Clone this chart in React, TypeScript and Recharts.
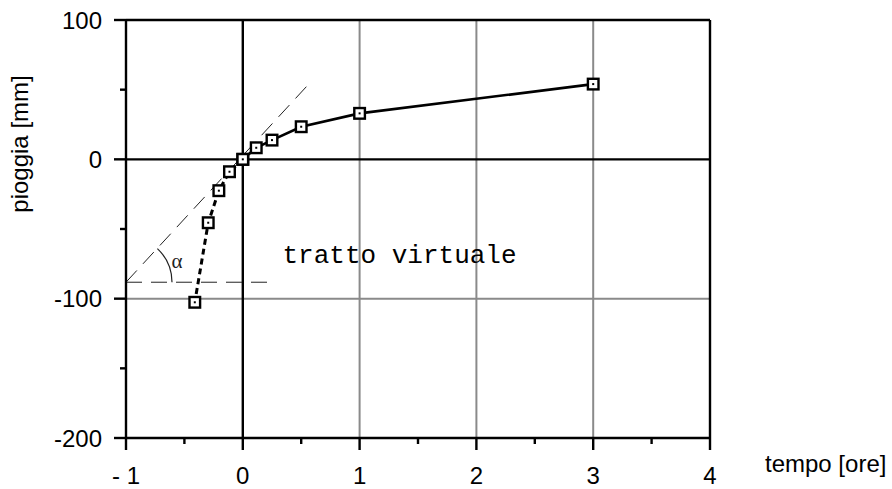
import {
  LineChart,
  Line,
  XAxis,
  YAxis,
  ReferenceLine,
  ReferenceDot,
} from "recharts";

// Rainfall curve: measured branch (t >= 0) and the virtual branch (t < 0)
const realTimes = [0, 0.115, 0.25, 0.5, 1, 3];
const realRain = [0, 8.3, 13.8, 23.4, 33, 54];

const virtualTimes = [0, -0.114, -0.205, -0.296, -0.411];
const virtualRain = [0, -8.9, -22.5, -45.5, -102.6];

// Construction line used to read the angle alpha
const tangentStart = { x: -1, y: -88.2 };
const tangentEnd = { x: 0.557, y: 53.3 };
const baselineEnd = { x: 0.257, y: -88.2 };

const xTicks = [-1, -0.5, 0, 0.5, 1, 1.5, 2, 2.5, 3, 3.5, 4];
const xTickLabels: Record<number, string> = {
  [-1]: "- 1",
  0: "0",
  1: "1",
  2: "2",
  3: "3",
  4: "4",
};
const yTicks = [-200, -150, -100, -50, 0, 50, 100];
const yTickLabels: Record<number, string> = {
  [-200]: "-200",
  [-100]: "-100",
  0: "0",
  100: "100",
};

const virtualLabel = { x: 0.34, y: -74.4, text: "tratto virtuale" };

const realData = realTimes.map((t, i) => ({ t, p: realRain[i] }));
const virtualData = virtualTimes.map((t, i) => ({ t, p: virtualRain[i] }));

const SANS = "'Liberation Sans', Arial, Helvetica, sans-serif";
const INK = "#000";
const GRID = "#8a8a8a";
const AXIS_W = 2.4;

function SquareMarker(props: any) {
  const { cx, cy, index } = props;
  if (cx == null || cy == null) return null;
  return (
    <g key={`m-${index}`}>
      <rect x={cx - 5.3} y={cy - 5.3} width={10.6} height={10.6} fill="#fff" stroke={INK} strokeWidth={2.4} />
      <rect x={cx - 1} y={cy - 1} width={2} height={2} fill={INK} />
    </g>
  );
}

function XTick(props: any) {
  const { x, y, payload } = props;
  const v = payload.value as number;
  const label = xTickLabels[v];
  const major = label !== undefined;
  return (
    <g>
      <line x1={x} x2={x} y1={y} y2={y + (major ? 12 : 6)} stroke={INK} strokeWidth={AXIS_W} />
      {major && (
        <text x={x} y={y + 46} textAnchor="middle" fontFamily={SANS} fontSize={24} fill={INK}>
          {label}
        </text>
      )}
    </g>
  );
}

function YTick(props: any) {
  const { x, y, payload } = props;
  const v = payload.value as number;
  const label = yTickLabels[v];
  const major = label !== undefined;
  return (
    <g>
      <line x1={x - (major ? 12 : 6)} x2={x} y1={y} y2={y} stroke={INK} strokeWidth={AXIS_W} />
      {major && (
        <text x={x - 24} y={y + 8.6} textAnchor="end" fontFamily={SANS} fontSize={24} fill={INK}>
          {label}
        </text>
      )}
    </g>
  );
}

// Arc and alpha symbol at the foot of the tangent line
function AlphaMark(props: any) {
  const { cx, cy } = props;
  const r = 46;
  const a = (47 * Math.PI) / 180;
  const ex = cx + r * Math.cos(a);
  const ey = cy - r * Math.sin(a);
  return (
    <g>
      <path d={`M ${cx + r} ${cy} A ${r} ${r} 0 0 0 ${ex} ${ey}`} fill="none" stroke="#222" strokeWidth={1.2} />
      <text x={cx + 51} y={cy - 14} textAnchor="middle" fontFamily="'Liberation Serif', 'Times New Roman', serif" fontSize={21} fill="#222">
        α
      </text>
    </g>
  );
}

function VirtualText(props: any) {
  const { cx, cy } = props;
  return (
    <text x={cx} y={cy} fontFamily="'Liberation Mono', 'Courier New', monospace" fontSize={26} fill={INK}>
      {virtualLabel.text}
    </text>
  );
}

export default function App() {
  return (
    <div style={{ position: "absolute", left: 0, top: 0, width: 892, height: 489, background: "#fff" }}>
      <LineChart width={892} height={489} margin={{ top: 20, right: 182, left: 66, bottom: 11 }}>
        <XAxis
          type="number"
          dataKey="t"
          domain={[-1, 4]}
          ticks={xTicks}
          allowDataOverflow
          height={40}
          tickSize={0}
          tickMargin={0}
          tickLine={false}
          axisLine={{ stroke: INK, strokeWidth: AXIS_W }}
          tick={(p: any) => <XTick {...p} />}
          label={({ viewBox }: any) => (
            <text
              x={viewBox.x + viewBox.width + 55}
              y={viewBox.y + 34}
              fontFamily={SANS}
              fontSize={24}
              fill={INK}
            >
              tempo [ore]
            </text>
          )}
        />
        <YAxis
          type="number"
          dataKey="p"
          domain={[-200, 100]}
          ticks={yTicks}
          allowDataOverflow
          width={60}
          tickSize={0}
          tickMargin={0}
          tickLine={false}
          axisLine={{ stroke: INK, strokeWidth: AXIS_W }}
          tick={(p: any) => <YTick {...p} />}
          label={({ viewBox }: any) => (
            <text
              x={28}
              y={viewBox.y + 124}
              transform={`rotate(-90, 28, ${viewBox.y + 124})`}
              textAnchor="middle"
              fontFamily={SANS}
              fontSize={24}
              fill={INK}
            >
              pioggia [mm]
            </text>
          )}
        />

        {[1, 2, 3].map((v) => (
          <ReferenceLine key={`gx${v}`} x={v} stroke={GRID} strokeWidth={2} />
        ))}
        <ReferenceLine y={-100} stroke={GRID} strokeWidth={2} />
        <ReferenceLine y={100} stroke={INK} strokeWidth={AXIS_W} />
        <ReferenceLine x={4} stroke={INK} strokeWidth={AXIS_W} />
        <ReferenceLine y={0} stroke={INK} strokeWidth={AXIS_W} />
        <ReferenceLine x={0} stroke={INK} strokeWidth={AXIS_W} />

        <ReferenceLine segment={[tangentStart, tangentEnd]} stroke="#222" strokeWidth={1} strokeDasharray="16 9" />
        <ReferenceLine segment={[tangentStart, baselineEnd]} stroke="#222" strokeWidth={1} strokeDasharray="16 9" />
        <ReferenceDot x={tangentStart.x} y={tangentStart.y} r={0} shape={(p: any) => <AlphaMark {...p} />} />
        <ReferenceDot x={virtualLabel.x} y={virtualLabel.y} r={0} shape={(p: any) => <VirtualText {...p} />} />

        <Line
          data={virtualData}
          dataKey="p"
          stroke={INK}
          strokeWidth={3}
          strokeDasharray="6 4"
          dot={(p: any) => <SquareMarker key={`v${p.index}`} {...p} />}
          isAnimationActive={false}
        />
        <Line
          data={realData}
          dataKey="p"
          stroke={INK}
          strokeWidth={2.7}
          dot={(p: any) => <SquareMarker key={`r${p.index}`} {...p} />}
          isAnimationActive={false}
        />
      </LineChart>
    </div>
  );
}
